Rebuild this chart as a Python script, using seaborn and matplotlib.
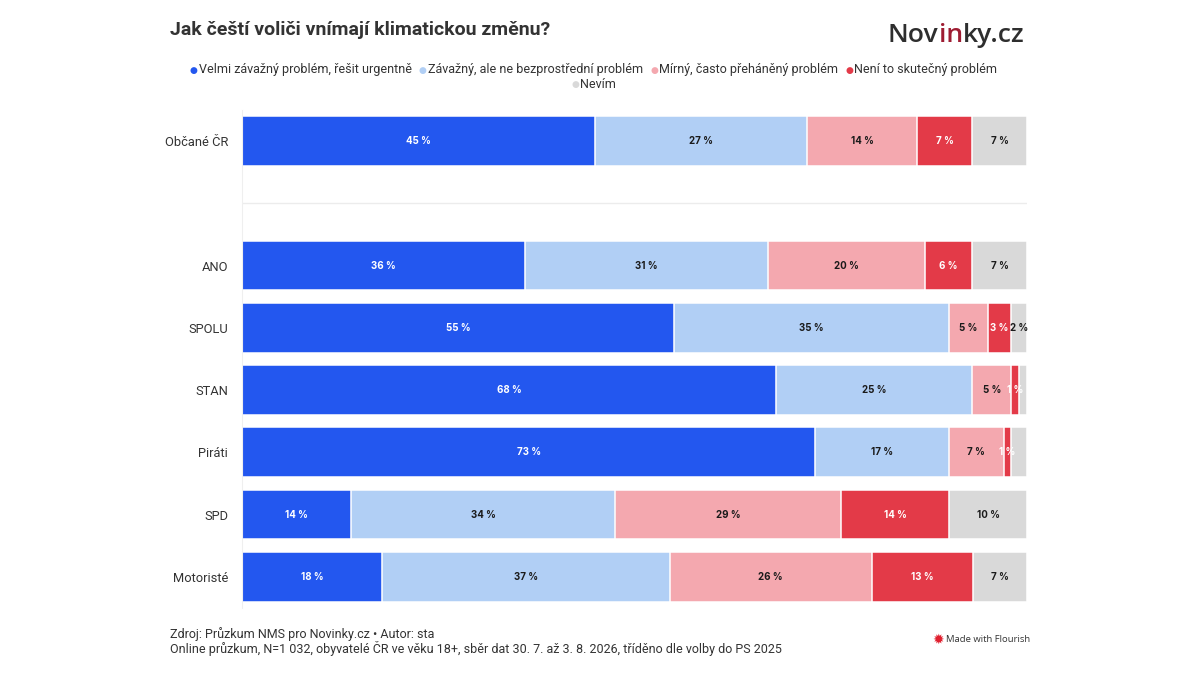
import pandas as pd
import matplotlib.pyplot as plt
import seaborn as sns

# Data (per cent)
groups = ['Občané ČR', 'ANO', 'SPOLU', 'STAN', 'Piráti', 'SPD', 'Motoristé']
answers = ['Velmi závažný problém, řešit urgentně',
           'Závažný, ale ne bezprostřední problém',
           'Mírný, často přeháněný problém',
           'Není to skutečný problém',
           'Nevím']
velmi = [45, 36, 55, 68, 73, 14, 18]
zavazny = [27, 31, 35, 25, 17, 34, 37]
mirny = [14, 20, 5, 5, 7, 29, 26]
neni = [7, 6, 3, 1, 1, 14, 13]
nevim = [7, 7, 2, 1, 2, 10, 7]

colors = ['#2357ef', '#b1cff5', '#f4a8af', '#e33a48', '#d9d9d9']
label_colors = ['white', '#1a1a1a', '#1a1a1a', 'white', '#1a1a1a']
# labels that Flourish dropped because they did not fit
hidden = {('STAN', 'Nevím'), ('Piráti', 'Nevím')}

# long table + 100 % stacking
rows = []
for a, vals in zip(answers, [velmi, zavazny, mirny, neni, nevim]):
    for g, v in zip(groups, vals):
        rows.append({'group': g, 'answer': a, 'value': v})
df = pd.DataFrame(rows)
df['answer'] = pd.Categorical(df['answer'], answers, ordered=True)
df = df.sort_values(['group', 'answer'])
df['share'] = df['value'] / df.groupby('group')['value'].transform('sum') * 100
df['cum'] = df.groupby('group')['share'].cumsum()

order = [groups[0], ' '] + groups[1:]   # blank slot after the total row

sns.set_style('white')
plt.rcParams['font.family'] = ['Roboto', 'DejaVu Sans']

fig = plt.figure(figsize=(12, 6.75), dpi=100)
ax = fig.add_axes([0.2017, 0.0993, 0.6542, 0.7378])

# draw cumulative bars from the back (largest) to the front
for i in reversed(range(len(answers))):
    part = df[df['answer'] == answers[i]]
    sns.barplot(data=part, x='cum', y='group', order=order, orient='h',
                color=colors[i], width=0.8, edgecolor='white', linewidth=1.1,
                saturation=1, ax=ax)

for _, r in df.iterrows():
    if (r['group'], r['answer']) in hidden:
        continue
    k = answers.index(r['answer'])
    ax.text(r['cum'] - r['share'] / 2, order.index(r['group']), f"{r['value']} %",
            ha='center', va='center', fontsize=7, fontweight='bold',
            color=label_colors[k], family=['Inter', 'DejaVu Sans'])

ax.axhline(1, color='#ececec', lw=1, zorder=0)
ax.set_xlim(0, 100)
ax.set_xlabel('')
ax.set_ylabel('')
ax.set_xticks([])
ax.tick_params(axis='y', length=0, pad=10, labelsize=9.3, labelcolor='#333333')
for s in ['top', 'right', 'bottom']:
    ax.spines[s].set_visible(False)
ax.spines['left'].set_color('#efefef')
ax.spines['left'].set_linewidth(0.8)

# title
fig.text(170 / 1200, 1 - 30 / 675, 'Jak čeští voliči vnímají klimatickou změnu?',
         fontsize=14, fontweight='bold', color='#333333', va='center', ha='left')

renderer = fig.canvas.get_renderer()

# logo: Nov + in + ky.cz, sized to span about 136 px
logo_parts = [('Nov', '#2e2e2e'), ('in', '#9e1c32'), ('ky.cz', '#2e2e2e')]
logo_font = dict(family=['Open Sans', 'DejaVu Sans'], fontweight='semibold')
probe = fig.text(0, 0, ''.join(p for p, _ in logo_parts), fontsize=20, **logo_font)
logo_fs = 20 * 136 / probe.get_window_extent(renderer).width
probe.remove()
x = 888 / 1200
for txt, c in logo_parts:
    t = fig.text(x, 1 - 35 / 675, txt, fontsize=logo_fs, color=c, va='center',
                 ha='left', **logo_font)
    x += t.get_window_extent(renderer).width / 1200

# legend, manually laid out and centred
leg_fs = 9
cx = 594
row1 = answers[:4]
items = []
total = 0
for a in row1:
    t = fig.text(0, 0, a, fontsize=leg_fs)
    w = t.get_window_extent(renderer).width
    t.remove()
    items.append(w)
    total += 10 + w
gap = 6
total += gap * (len(row1) - 1)
x = cx - total / 2
for a, w in zip(row1, items):
    c = colors[answers.index(a)]
    fig.text(x / 1200, 1 - 70 / 675, '●', fontsize=6.5, color=c, va='center', ha='left')
    fig.text((x + 9) / 1200, 1 - 69 / 675, a, fontsize=leg_fs, color='#333333',
             va='center', ha='left')
    x += 10 + w + gap
t = fig.text(0, 0, answers[4], fontsize=leg_fs)
w = t.get_window_extent(renderer).width
t.remove()
x = cx - (w + 10) / 2
fig.text(x / 1200, 1 - 85 / 675, '●', fontsize=6.5, color=colors[4], va='center', ha='left')
fig.text((x + 9) / 1200, 1 - 84 / 675, answers[4], fontsize=leg_fs, color='#333333',
         va='center', ha='left')

# footer
fig.text(170 / 1200, 1 - 634 / 675, 'Zdroj: Průzkum NMS pro Novinky.cz • Autor: sta',
         fontsize=9, color='#333333', va='center', ha='left')
fig.text(170 / 1200, 1 - 648 / 675,
         'Online průzkum, N=1 032, obyvatelé ČR ve věku 18+, sběr dat 30. 7. až 3. 8. 2026, '
         'tříděno dle volby do PS 2025',
         fontsize=9, color='#333333', va='center', ha='left')
fig.text(938 / 1200, 1 - 640 / 675, '✹', fontsize=10, color='#e0202f', va='center',
         ha='center', family=['DejaVu Sans'])
fig.text(946 / 1200, 1 - 640 / 675, 'Made with Flourish', fontsize=6.8, color='#333333',
         va='center', ha='left', family=['Open Sans', 'DejaVu Sans'])

fig.savefig('out.png', dpi=100)
